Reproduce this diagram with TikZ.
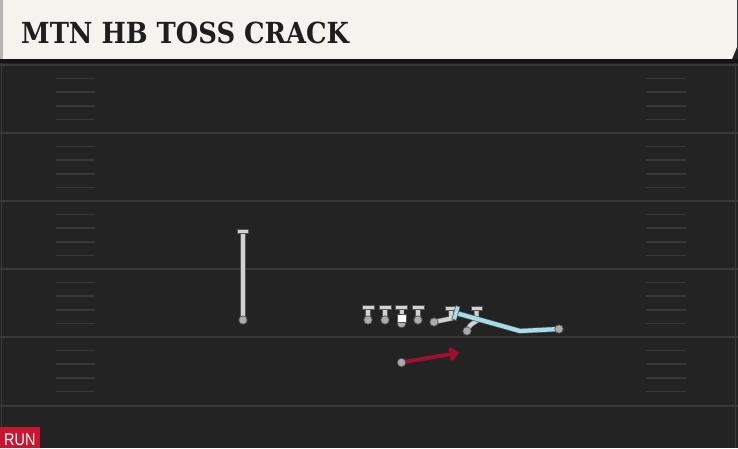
\documentclass[tikz,border=0pt]{standalone}
\usepackage{fontspec}
\usetikzlibrary{arrows.meta}
\newfontfamily\titlefont{DejaVu Serif}
\newfontfamily\tagfont{Liberation Sans}
\definecolor{fieldbg}{HTML}{232323}
\definecolor{yardgray}{HTML}{393939}
\definecolor{hashgray}{HTML}{393939}
\definecolor{barcream}{HTML}{F5F3EE}
\definecolor{bargray}{HTML}{B4B4B4}
\definecolor{bandblack}{HTML}{141414}
\definecolor{inkdark}{HTML}{1E1E1E}
\definecolor{routefill}{HTML}{D2D2D2}
\definecolor{routeedge}{HTML}{555555}
\definecolor{spotfill}{HTML}{ABABAB}
\definecolor{crackblue}{HTML}{A6DDEB}
\definecolor{carryred}{HTML}{A0102E}
\definecolor{runred}{HTML}{C81530}
\begin{document}
\begin{tikzpicture}[x=1pt,y=-1pt,
  yard/.style={draw=yardgray, line width=2pt},
  hash/.style={draw=hashgray, line width=1.5pt},
  route/.style={draw=routeedge, line width=0.7pt, double=routefill, double distance=4pt},
  crack/.style={draw=routeedge, line width=0.6pt, double=crackblue, double distance=4.2pt},
  blockbar/.style={fill=routefill, draw=routeedge, line width=0.7pt},
  spot/.style={fill=spotfill, draw=routeedge, line width=0.7pt}]
\useasboundingbox (0,0) rectangle (738,448);
\fill[fieldbg] (0,0) rectangle (738,448);
% title bar
\fill[barcream] (0,0)--(737,0)--(737,47)--(732,59)--(0,59)--cycle;
\fill[bargray] (0,0) rectangle (3,59);
\fill[bandblack] (0,59) rectangle (738,63);
\node[anchor=base west, text=inkdark, inner sep=0pt] (title) at (21,43)
  {\scalebox{0.89}[1]{\titlefont\bfseries\fontsize{29}{30}\selectfont MTN HB TOSS CRACK}};
% field
\draw[yardgray, line width=1pt] (1,63)--(1,448);
\draw[yardgray, line width=1pt] (735.5,63)--(735.5,448);
\foreach \y in {65,133,201,269,337,406}
  \draw[yard] (0,\y)--(738,\y);
\foreach \y in {65,133,201,269,337}
  \foreach \k in {1,2,3,4} {
    \draw[hash] (56,\y+13.6*\k)--(95,\y+13.6*\k);
    \draw[hash] (646,\y+13.6*\k)--(686,\y+13.6*\k);
  }
% split end
\draw[route] (243,320)--(243,233);
\filldraw[blockbar] (237.5,229) rectangle (248.5,233.5);
\filldraw[spot] (243,320) circle[radius=4.2];
% line
\draw[route] (368,320)--(368,309);
\draw[route] (385,320)--(385,309);
\draw[route] (401.5,322)--(401.5,309);
\draw[route] (418,320)--(418,309);
\filldraw[blockbar] (362,305) rectangle (374,309.5);
\filldraw[blockbar] (379,305) rectangle (391,309.5);
\filldraw[blockbar] (395.5,305) rectangle (407.5,309.5);
\filldraw[blockbar] (412,305) rectangle (424,309.5);
\filldraw[spot] (368,320) circle[radius=4.2];
\filldraw[spot] (385,320) circle[radius=4.2];
\filldraw[spot] (401.5,323.5) circle[radius=4.2];
\filldraw[fill=white, draw=routeedge, line width=0.7pt] (397,314) rectangle (406,322.5);
\filldraw[spot] (418,320) circle[radius=4.2];
% tackle and tight end
\draw[route] (434,322)--(451,318.5)--(451,310);
\filldraw[blockbar] (445.5,306) rectangle (456.5,310.5);
\filldraw[spot] (434,322) circle[radius=4.2];
\draw[route] (467,331) .. controls (470,325) .. (476.5,321)--(476.5,310);
\filldraw[blockbar] (471,306) rectangle (482,310.5);
\filldraw[spot] (467,331) circle[radius=4.2];
% crack block
\draw[crack] (559,329)--(520,331)--(456,313);
\filldraw[fill=crackblue, draw=routeedge, line width=0.6pt, rotate around={-15.7:(456,313)}] (453.8,306) rectangle (458.2,320);
\filldraw[spot] (559,329) circle[radius=4.2];
% ball carrier
\draw[carryred, line width=4pt, -{Straight Barb[length=6pt,width=11pt]}] (405,361.8)--(459,352.8);
\filldraw[spot] (401.5,362.5) circle[radius=4.2];
% tag
\fill[runred] (0,427) rectangle (40,448);
\node[anchor=base west, text=white, inner sep=0pt] (tag) at (4,445)
  {\scalebox{0.85}[1]{\tagfont\fontsize{17}{18}\selectfont RUN}};
\end{tikzpicture}
\end{document}
